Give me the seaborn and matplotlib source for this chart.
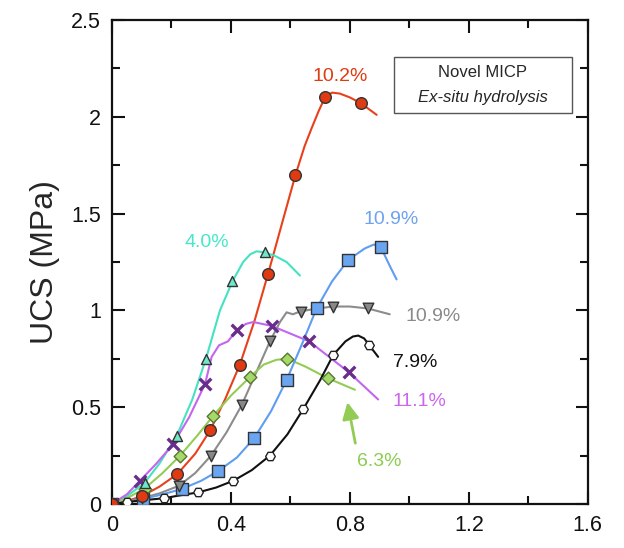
import numpy as np
import pandas as pd
import matplotlib
matplotlib.use("Agg")
import matplotlib.pyplot as plt
from matplotlib.ticker import MultipleLocator
import seaborn as sns

red_x = [0, 0.10, 0.22, 0.33, 0.43, 0.525, 0.617, 0.716, 0.837]
red_y = [0, 0.04, 0.155, 0.38, 0.72, 1.19, 1.70, 2.10, 2.07]
teal_x = [0, 0.11, 0.217, 0.316, 0.405, 0.514]
teal_y = [0, 0.11, 0.35, 0.75, 1.15, 1.30]
purple_x = [0, 0.094, 0.206, 0.313, 0.42, 0.537, 0.663, 0.797]
purple_y = [0, 0.12, 0.31, 0.62, 0.90, 0.92, 0.84, 0.68]
gray_x = [0, 0.10, 0.225, 0.333, 0.436, 0.531, 0.634, 0.744, 0.86]
gray_y = [0, 0.03, 0.094, 0.25, 0.51, 0.84, 0.99, 1.02, 1.01]
green_x = [0, 0.11, 0.229, 0.34, 0.464, 0.59, 0.725]
green_y = [0, 0.08, 0.25, 0.455, 0.656, 0.75, 0.65]
blue_x = [0, 0.105, 0.234, 0.357, 0.478, 0.587, 0.688, 0.794, 0.903]
blue_y = [0, 0.026, 0.077, 0.17, 0.34, 0.64, 1.01, 1.26, 1.33]
black_x = [0, 0.05, 0.175, 0.29, 0.408, 0.531, 0.643, 0.744, 0.865]
black_y = [0, 0.01, 0.03, 0.06, 0.12, 0.25, 0.49, 0.77, 0.82]

# fitted curves
red_cx = [0, 0.05, 0.10, 0.16, 0.22, 0.28, 0.33, 0.38, 0.43, 0.48, 0.525, 0.57, 0.617, 0.648, 0.671, 0.695, 0.716, 0.74, 0.766, 0.80, 0.837, 0.89]
red_cy = [0, 0.015, 0.04, 0.09, 0.155, 0.26, 0.38, 0.54, 0.72, 0.95, 1.19, 1.44, 1.70, 1.85, 1.94, 2.03, 2.10, 2.125, 2.12, 2.10, 2.07, 2.01]
teal_cx = [0, 0.05, 0.11, 0.16, 0.217, 0.27, 0.316, 0.363, 0.405, 0.441, 0.465, 0.486, 0.514, 0.55, 0.587, 0.632]
teal_cy = [0, 0.04, 0.11, 0.21, 0.35, 0.54, 0.75, 1.00, 1.15, 1.25, 1.29, 1.305, 1.30, 1.28, 1.25, 1.18]
purple_cx = [0, 0.05, 0.094, 0.15, 0.206, 0.26, 0.313, 0.335, 0.36, 0.39, 0.42, 0.45, 0.475, 0.537, 0.60, 0.663, 0.73, 0.797, 0.895]
purple_cy = [0, 0.05, 0.12, 0.21, 0.31, 0.45, 0.62, 0.76, 0.82, 0.84, 0.90, 0.93, 0.94, 0.92, 0.88, 0.84, 0.76, 0.68, 0.54]
gray_cx = [0, 0.05, 0.10, 0.16, 0.225, 0.28, 0.333, 0.385, 0.436, 0.485, 0.531, 0.565, 0.587, 0.608, 0.634, 0.69, 0.744, 0.80, 0.86, 0.934]
gray_cy = [0, 0.012, 0.03, 0.055, 0.094, 0.16, 0.25, 0.37, 0.51, 0.68, 0.84, 0.94, 0.99, 0.98, 0.995, 1.01, 1.02, 1.02, 1.01, 0.98]
green_cx = [0, 0.05, 0.11, 0.17, 0.229, 0.285, 0.34, 0.40, 0.464, 0.51, 0.553, 0.59, 0.65, 0.725, 0.817]
green_cy = [0, 0.03, 0.08, 0.16, 0.25, 0.35, 0.455, 0.56, 0.656, 0.72, 0.745, 0.75, 0.71, 0.65, 0.59]
blue_cx = [0, 0.05, 0.105, 0.17, 0.234, 0.30, 0.357, 0.42, 0.478, 0.535, 0.587, 0.64, 0.688, 0.74, 0.794, 0.85, 0.88, 0.903, 0.934, 0.957]
blue_cy = [0, 0.01, 0.026, 0.05, 0.077, 0.12, 0.17, 0.24, 0.34, 0.48, 0.64, 0.83, 1.01, 1.15, 1.26, 1.32, 1.34, 1.33, 1.23, 1.16]
black_cx = [0, 0.05, 0.11, 0.175, 0.23, 0.29, 0.35, 0.408, 0.47, 0.531, 0.59, 0.643, 0.70, 0.744, 0.785, 0.81, 0.828, 0.848, 0.865, 0.895]
black_cy = [0, 0.01, 0.02, 0.03, 0.045, 0.06, 0.085, 0.12, 0.175, 0.25, 0.36, 0.49, 0.64, 0.77, 0.84, 0.865, 0.87, 0.855, 0.82, 0.76]

sns.set_style("ticks")
plt.rcParams['font.family'] = ['Liberation Sans', 'DejaVu Sans']

fig = plt.figure(figsize=(6.24, 5.48), dpi=100)
ax = fig.add_axes([0.1795, 0.0803, 0.7625, 0.8832])

# curves first, markers on top
curves = [
    (red_cx, red_cy, '#e8401c'),
    (teal_cx, teal_cy, '#45e2c2'),
    (purple_cx, purple_cy, '#c465f0'),
    (gray_cx, gray_cy, '#8c8c8c'),
    (green_cx, green_cy, '#93cc55'),
    (blue_cx, blue_cy, '#5f9df0'),
    (black_cx, black_cy, '#111111'),
]
for cx, cy, col in curves:
    sns.lineplot(x=cx, y=cy, color=col, linewidth=1.5, sort=False, ax=ax)

edge = '#333333'
sns.scatterplot(x=black_x, y=black_y, marker='H', s=48, color='white', edgecolor='#222222', linewidth=1.0, ax=ax, zorder=5)
sns.scatterplot(x=blue_x, y=blue_y, marker='s', s=65, color='#6aa5f2', edgecolor=edge, linewidth=1.0, ax=ax, zorder=5)
sns.scatterplot(x=green_x, y=green_y, marker='D', s=42, color='#a6d96a', edgecolor='#557733', linewidth=1.0, ax=ax, zorder=5)
sns.scatterplot(x=gray_x, y=gray_y, marker='v', s=58, color='#888888', edgecolor=edge, linewidth=1.0, ax=ax, zorder=5)
sns.scatterplot(x=purple_x, y=purple_y, marker='x', s=70, color='#6a2d8c', linewidth=2.4, ax=ax, zorder=5)
sns.scatterplot(x=teal_x, y=teal_y, marker='^', s=52, color='#6ee8c8', edgecolor=edge, linewidth=1.0, ax=ax, zorder=5)
sns.scatterplot(x=red_x, y=red_y, marker='o', s=70, color='#e03a12', edgecolor=edge, linewidth=1.0, ax=ax, zorder=6)

ax.set_xlim(0, 1.6)
ax.set_ylim(0, 2.5)
ax.xaxis.set_major_locator(MultipleLocator(0.4))
ax.xaxis.set_minor_locator(MultipleLocator(0.2))
ax.yaxis.set_major_locator(MultipleLocator(0.5))
ax.yaxis.set_minor_locator(MultipleLocator(0.25))
ax.set_xticks([0, 0.4, 0.8, 1.2, 1.6])
ax.set_xticklabels(['0', '0.4', '0.8', '1.2', '1.6'])
ax.set_yticks([0, 0.5, 1, 1.5, 2, 2.5])
ax.set_yticklabels(['0', '0.5', '1', '1.5', '2', '2.5'])
ax.tick_params(which='both', direction='in', top=True, right=True, width=1.5, labelsize=15.5, pad=8, colors='#111111')
ax.tick_params(which='major', length=9)
ax.tick_params(which='minor', length=6)
for sp in ax.spines.values():
    sp.set_linewidth(1.6)
    sp.set_color('#111111')
ax.set_ylabel('UCS (MPa)', fontsize=23, labelpad=8)
ax.set_xlabel('')

# sample labels
ax.text(0.766, 2.21, '10.2%', color='#e03a10', fontsize=14, ha='center', va='center')
ax.text(0.32, 1.35, '4.0%', color='#45e8c8', fontsize=14, ha='center', va='center')
ax.text(0.94, 1.47, '10.9%', color='#6fa2f0', fontsize=14, ha='center', va='center')
ax.text(1.08, 0.97, '10.9%', color='#8a8a8a', fontsize=14, ha='center', va='center')
ax.text(1.02, 0.73, '7.9%', color='#111111', fontsize=14, ha='center', va='center')
ax.text(1.035, 0.53, '11.1%', color='#cc66ee', fontsize=14, ha='center', va='center')
ax.text(0.9, 0.22, '6.3%', color='#8ccc50', fontsize=14, ha='center', va='center')
ax.annotate('', xy=(0.79, 0.54), xytext=(0.82, 0.30),
            arrowprops=dict(arrowstyle='-|>', color='#93cc55', lw=2.0, mutation_scale=25))

# info box
ax.text(1.247, 2.23, 'Novel MICP', fontsize=12, ha='center', va='center')
ax.text(1.247, 2.10, 'Ex-situ hydrolysis', fontsize=12, ha='center', va='center', style='italic')
ax.add_patch(plt.Rectangle((0.948, 2.02), 0.6, 0.29, fill=False, edgecolor='#555555', linewidth=1.0))

fig.savefig('out.png', dpi=100)
